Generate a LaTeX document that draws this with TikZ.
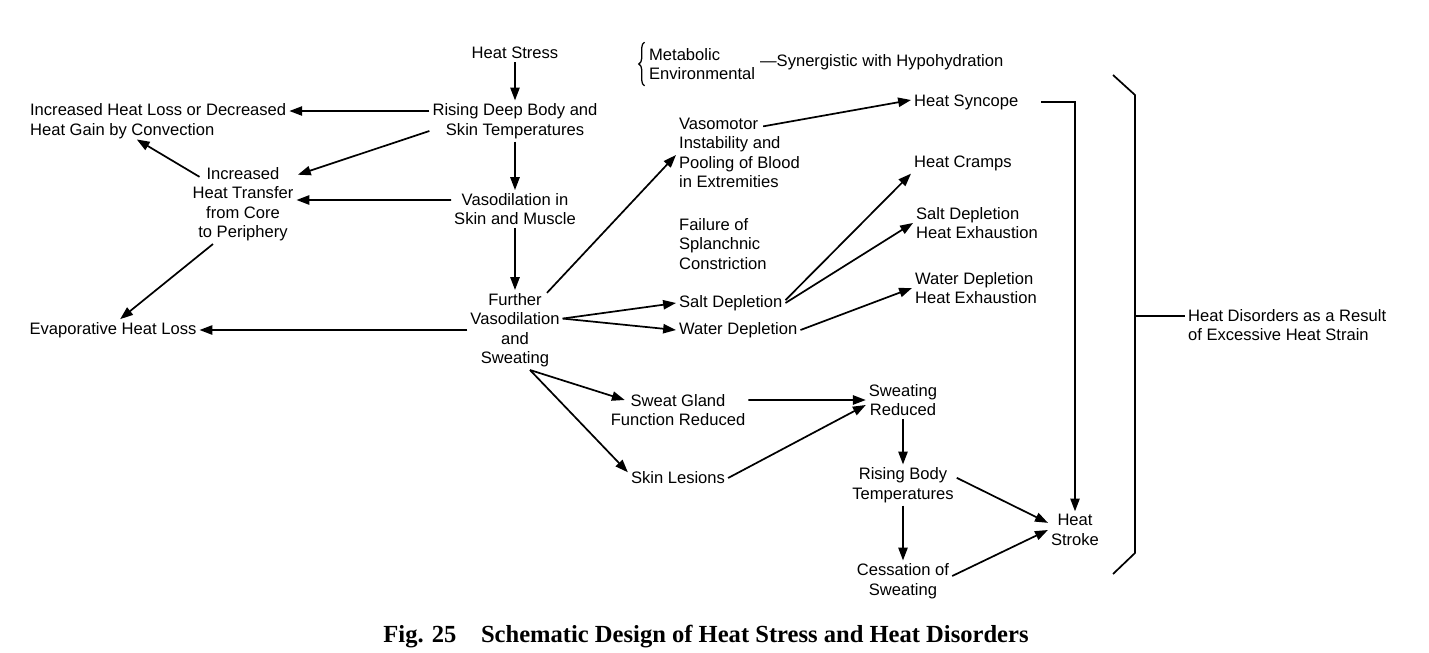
\documentclass[tikz,border=0pt]{standalone}
\usepackage{fontspec}
\setmainfont{Liberation Sans}
\newfontfamily\titlefont{Liberation Serif}
\usepackage{tikz}
\usetikzlibrary{arrows.meta, positioning}
\usetikzlibrary{decorations.pathreplacing}
\usetikzlibrary{calc}

\begin{document}
\begin{tikzpicture}[x=0.7pt, y=-0.7pt,
    lbl/.style={inner sep=2pt, align=center, font=\fontsize{11.6}{13.6}\selectfont},
    lbll/.style={lbl, align=left, anchor=west},
    arr/.style={line width=1.2pt, -{Triangle[length=9pt,width=6.5pt]}},
    ln/.style={line width=1.2pt}]
        \useasboundingbox (0,0) rectangle (1429,653);

        % main chain
        \node[lbl] (hs) at (515,53) {Heat Stress};
        \node[lbl] (rising) at (515,121) {Rising Deep Body and\\Skin Temperatures};
        \node[lbl] (vaso) at (515,209) {Vasodilation in\\Skin and Muscle};
        \node[lbl] (further) at (515,330) {Further\\Vasodilation\\and\\Sweating};

        % left side
        \node[lbll] (incloss) at (27,121) {Increased Heat Loss or Decreased\\Heat Gain by Convection};
        \node[lbl] (transfer) at (243,204) {Increased\\Heat Transfer\\from Core\\to Periphery};
        \node[lbl] (evap) at (113,330) {Evaporative Heat Loss};

        % top note
        \node[lbll] (metab) at (646,64) {Metabolic\\Environmental};
        \node[lbll] (syn) at (757,62) {—Synergistic with Hypohydration};
        \draw[ln, line width=0.9pt, decorate, decoration={brace, amplitude=4pt}]
            ([xshift=-1pt,yshift=-2pt]metab.south west) -- ([xshift=-1pt,yshift=2pt]metab.north west);

        % middle column
        \node[lbll] (vasomotor) at (676,153) {Vasomotor\\Instability and\\Pooling of Blood\\in Extremities};
        \node[lbll] (splanch) at (676,244) {Failure of\\Splanchnic\\Constriction};
        \node[lbll] (saltdep) at (676,303) {Salt Depletion};
        \node[lbll] (waterdep) at (676,330) {Water Depletion};
        \node[lbl] (gland) at (678,410) {Sweat Gland\\Function Reduced};
        \node[lbl] (lesions) at (678,478) {Skin Lesions};

        % disorders
        \node[lbll] (syncope) at (911,102) {Heat Syncope};
        \node[lbll] (cramps) at (911,163) {Heat Cramps};
        \node[lbll] (saltex) at (913,223) {Salt Depletion\\Heat Exhaustion};
        \node[lbll] (waterex) at (912,288) {Water Depletion\\Heat Exhaustion};
        \node[lbl] (reduced) at (903,400) {Sweating\\Reduced};
        \node[lbl] (risingbt) at (903,485) {Rising Body\\Temperatures};
        \node[lbl] (cessation) at (903,581) {Cessation of\\Sweating};
        \node[lbl] (stroke) at (1075,530) {Heat\\Stroke};
        \node[lbll] (result) at (1185,325) {Heat Disorders as a Result\\of Excessive Heat Strain};

        % caption
        \node[inner sep=0pt] (title) at (706,637)
            {\titlefont\bfseries\fontsize{17.2}{19}\selectfont Fig. 25\quad Schematic Design of Heat Stress and Heat Disorders};

        % arrows of the main chain
        \draw[arr] (hs.south) -- (rising.north);
        \draw[arr] (rising.south) -- (vaso.north);
        \draw[arr] (vaso.south) -- (further.north);

        % arrows to the left
        \draw[arr] ([yshift=7pt]rising.west) -- ([yshift=7pt]incloss.east);
        \draw[arr] ([yshift=-7pt]rising.west) -- ([xshift=1pt,yshift=-7.5pt]transfer.north east);
        \draw[arr] ([yshift=6.3pt]vaso.west) -- ([yshift=2.8pt]transfer.east);
        \draw[arr] ([xshift=7pt,yshift=-9pt]transfer.north west) -- ([xshift=-15pt,yshift=1.5pt]incloss.south);
        \draw[arr] ([xshift=-21pt]transfer.south) -- ([xshift=5pt]evap.north);
        \draw[arr] (further.west) -- (evap.east);

        % arrows to the right
        \draw[arr] ([xshift=-11pt,yshift=-2pt]further.north east) -- ([yshift=-1.4pt]vasomotor.west);
        \draw[arr] ([yshift=8pt]further.east) -- (saltdep.west);
        \draw[arr] ([yshift=8pt]further.east) -- (waterdep.west);
        \draw[arr] ([xshift=10.5pt]further.south) -- ([xshift=12pt,yshift=7pt]gland.west);
        \draw[arr] ([xshift=10.5pt]further.south) -- ([yshift=4pt]lesions.west);

        \draw[arr] ([xshift=61pt,yshift=-8pt]vasomotor.north west) -- ([yshift=1.4pt]syncope.west);
        \draw[arr] ([yshift=2pt]saltdep.east) -- (cramps.south west);
        \draw[arr] (saltdep.east) -- (saltex.west);
        \draw[arr] (waterdep.east) -- (waterex.west);

        \draw[arr] ([yshift=7pt]gland.east) -- (reduced.west);
        \draw[arr] (lesions.east) -- ([yshift=-3.5pt]reduced.west);
        \draw[arr] (reduced.south) -- (risingbt.north);
        \draw[arr] (risingbt.south) -- (cessation.north);
        \draw[arr] ([yshift=5pt]risingbt.east) -- ([yshift=5pt]stroke.west);
        \draw[arr] ([yshift=3.5pt]cessation.east) -- (stroke.west);
        \draw[arr] ([xshift=14pt]syncope.east) -| (stroke.north);

        % bracket
        \draw[ln] (1113,75) -- (1135,95) -- (1135,553) -- (1113,574);
        \coordinate (bmid) at (1135,316);
        \draw[ln] (bmid) -- (bmid -| result.west);
    \end{tikzpicture}
\end{document}
